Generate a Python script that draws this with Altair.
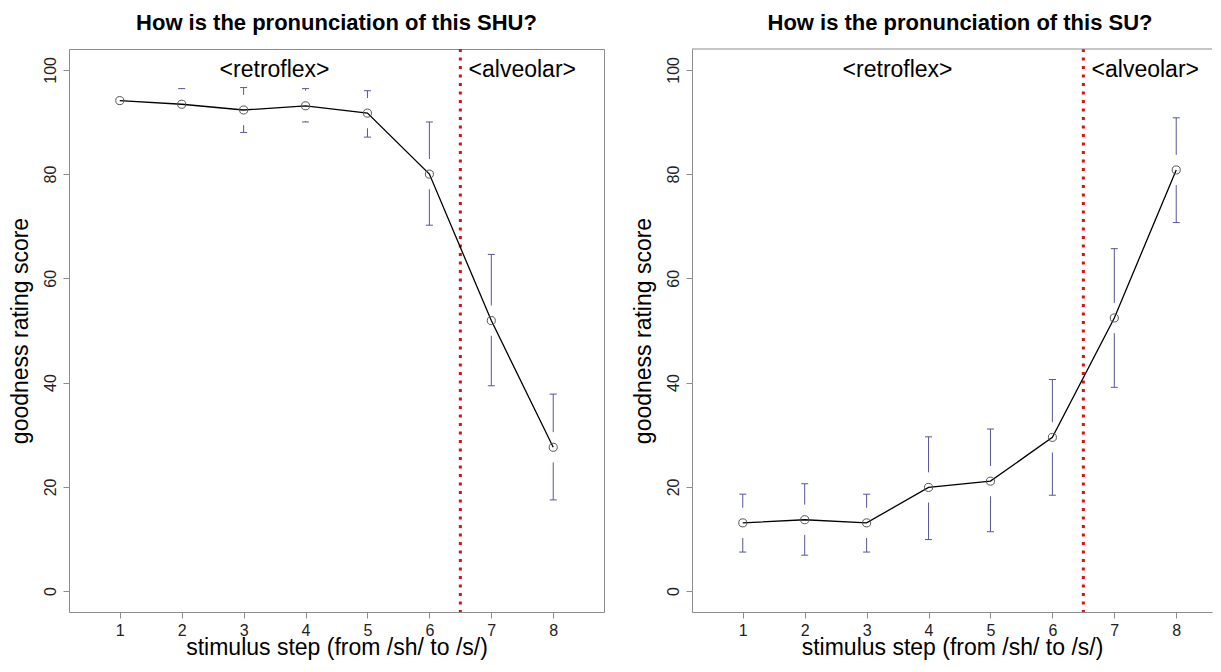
import altair as alt
import pandas as pd

steps = [1, 2, 3, 4, 5, 6, 7, 8]

shu_mean = [94.1, 93.4, 92.3, 93.1, 91.7, 80.0, 51.9, 27.6]
shu_upper = [96.4, 96.4, 96.6, 96.4, 96.0, 90.0, 64.6, 37.8]
shu_lower = [91.9, 90.5, 88.0, 90.0, 87.1, 70.2, 39.4, 17.5]

su_mean = [13.1, 13.7, 13.1, 19.9, 21.1, 29.5, 52.4, 80.8]
su_upper = [18.6, 20.6, 18.6, 29.6, 31.1, 40.6, 65.7, 90.8]
su_lower = [7.5, 6.9, 7.5, 9.9, 11.4, 18.4, 39.1, 70.7]

titles = ["How is the pronunciation of this SHU?", "How is the pronunciation of this SU?"]
region_labels = ["<retroflex>", "<alveolar>"]
region_x = [3.5, 7.5]
region_y = [100, 100]
boundary_x = [6.5]

y_ticks = [0, 20, 40, 60, 80, 100]

FONT = "Liberation Sans"
BAR = "#56569a"
FRAME = "#8c8c8c"
GAP = 2.9  # plotCI gap around the point, in score units
PX_PER_STEP = 535 / 8.64


def panel(title, mean, upper, lower, width, framed, title_dx):
    xmax = 0.18 + width / PX_PER_STEP
    xscale = alt.Scale(domain=[0.18, xmax], nice=False, zero=False)
    yscale = alt.Scale(domain=[-4, 104], nice=False, zero=False)
    xaxis = alt.Axis(values=steps, title="stimulus step (from /sh/ to /s/)",
                     labelPadding=4, titlePadding=-2, format="d",
                     domain=not framed, domainColor=FRAME)
    yaxis = alt.Axis(values=y_ticks, title="goodness rating score", labelAngle=270,
                     labelPadding=5, titlePadding=10,
                     domain=not framed, domainColor=FRAME)

    df = pd.DataFrame({"step": steps, "mean": mean, "upper": upper, "lower": lower})
    base = alt.Chart(df).transform_calculate(
        top_end=f"min(datum.mean + {GAP}, datum.upper)",
        bot_end=f"max(datum.mean - {GAP}, datum.lower)",
    )
    X = alt.X("step:Q", scale=xscale, axis=xaxis)

    up_seg = base.mark_rule(color=BAR, strokeWidth=1).encode(
        x=X, y=alt.Y("upper:Q", scale=yscale, axis=yaxis), y2="top_end:Q")
    lo_seg = base.mark_rule(color=BAR, strokeWidth=1).encode(
        x=X, y=alt.Y("lower:Q", scale=yscale, axis=yaxis), y2="bot_end:Q")
    up_cap = base.transform_filter(f"datum.upper > datum.mean + {GAP}").mark_rule(
        color=BAR, strokeWidth=1, xOffset=-3.5, x2Offset=3.5).encode(
        x=X, x2="step:Q", y=alt.Y("upper:Q", scale=yscale, axis=yaxis))
    lo_cap = base.transform_filter(f"datum.lower < datum.mean - {GAP}").mark_rule(
        color=BAR, strokeWidth=1, xOffset=-3.5, x2Offset=3.5).encode(
        x=X, x2="step:Q", y=alt.Y("lower:Q", scale=yscale, axis=yaxis))

    line = alt.Chart(df).mark_line(color="black", strokeWidth=1.3).encode(
        x=X, y=alt.Y("mean:Q", scale=yscale, axis=yaxis))
    pts = alt.Chart(df).mark_point(shape="circle", filled=False, size=65,
                                   color="#555555", strokeWidth=1, opacity=1).encode(
        x=X, y=alt.Y("mean:Q", scale=yscale, axis=yaxis))

    vline = alt.Chart(pd.DataFrame({"bx": boundary_x})).mark_rule(
        color="#dd1010", strokeWidth=3, strokeDash=[3, 5.5]).encode(
        x=alt.X("bx:Q", scale=xscale, axis=xaxis))

    ann = alt.Chart(pd.DataFrame({"label": region_labels, "ax": region_x, "ay": region_y})).mark_text(
        font=FONT, fontSize=23, color="black", baseline="middle", align="center").encode(
        x=alt.X("ax:Q", scale=xscale, axis=xaxis),
        y=alt.Y("ay:Q", scale=yscale, axis=yaxis),
        text="label:N")

    layers = [vline, up_seg, lo_seg, up_cap, lo_cap, line, pts, ann]
    props = dict(width=width, height=563,
                 title=alt.Title(title, font=FONT, fontSize=22, fontWeight="bold",
                                 color="black", offset=13, anchor="middle", dx=title_dx))
    if not framed:
        top = alt.Chart(pd.DataFrame({"bx": boundary_x})).mark_rule(
            color=FRAME, strokeWidth=1).encode(
            y=alt.value(0), x=alt.value(0), x2=alt.value(width))
        layers.append(top)
        props["view"] = alt.ViewBackground(stroke="transparent")
    return alt.layer(*layers).properties(**props)


left = panel(titles[0], shu_mean, shu_upper, shu_lower, 535, True, 0)
right = panel(titles[1], su_mean, su_upper, su_lower, 520, False, 8)

chart = alt.hconcat(left, right, spacing=26).properties(
    padding={"top": 3, "left": 0, "right": 0, "bottom": 0},
    background="white"
).configure_view(
    stroke=FRAME, strokeWidth=1
).configure_axis(
    grid=False, domain=False, tickColor=FRAME, tickSize=6, tickWidth=1,
    labelFont=FONT, labelFontSize=16, labelColor="#222222",
    titleFont=FONT, titleFontSize=23, titleFontWeight="normal", titleColor="black"
)

chart.save("out.html", embed_options={"renderer": "svg", "actions": False})
